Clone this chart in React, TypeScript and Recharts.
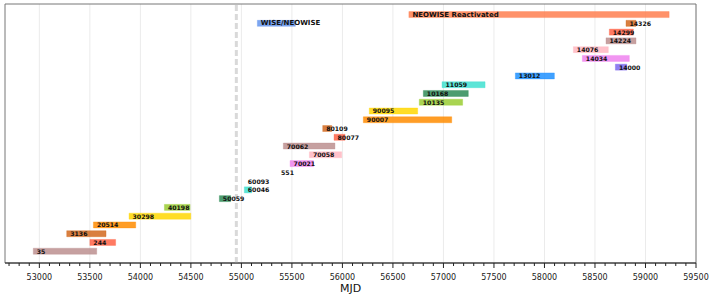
import { ComposedChart, Bar, Cell, XAxis, YAxis, ReferenceLine, ReferenceArea, LabelList, CartesianGrid } from 'recharts';

// observing programmes, one row each (WISE/NEOWISE shares the row of 14326)
const programs = ['35', '244', '3136', '20514', '30298', '40198', '50059', '60046', '60093', '551',
  '70021', '70058', '70062', '80077', '80109', '90007', '90095', '10135', '10168', '11059',
  '13012', '14000', '14034', '14076', '14224', '14299', '14326', 'NEOWISE Reactivated', 'WISE/NEOWISE'];
const rows = [0, 1, 2, 3, 4, 5, 6, 7, 8, 9, 10, 11, 12, 13, 14, 15, 16, 17, 18, 19, 20, 21, 22, 23, 24, 25, 26, 27, 26];
const startMJD = [52940, 53500, 53271, 53535, 53888, 54238, 54782, 55029, 55029, 55358,
  55482, 55673, 55415, 55917, 55805, 56207, 56266, 56761, 56801, 56986,
  57712, 58702, 58375, 58286, 58609, 58642, 58807, 56658, 55158];
const endMJD = [53568, 53755, 53660, 53954, 54499, 54492, 54894, 55102, 55030, 55359,
  55713, 55993, 55926, 56026, 55894, 57082, 56745, 57190, 57246, 57412,
  58098, 58815, 58840, 58632, 58906, 58880, 58906, 59234, 55534];
const colors = ['#bc8f8f', '#ff6347', '#d2691e', '#ff8c00', '#ffd700', '#9acd32', '#2e8b57', '#40e0d0', 'none', 'none',
  '#ee82ee', '#ffb6c1', '#bc8f8f', '#ff6347', '#d2691e', '#ff8c00', '#ffd700', '#9acd32', '#2e8b57', '#40e0d0',
  '#1e90ff', '#7b68ee', '#ee82ee', '#ffb6c1', '#bc8f8f', '#ff6347', '#d2691e', '#ff7f50', '#6495ed'];

const majorTicks = [53000, 53500, 54000, 54500, 55000, 55500, 56000, 56500, 57000, 57500, 58000, 58500, 59000, 59500];
const minorTicks: number[] = [];
for (let v = 52700; v <= 59500; v += 100) minorTicks.push(v);

const xDomain = [52660, 59500];
const yDomain = [-1.3, 28.25];
const gapMJD = 54950; // WISE gap marker

const data = programs.map((name, i) => ({
  name,
  row: rows[i],
  span: [startMJD[i], endMJD[i]],
}));

const AxisTick = ({ x, y, payload }: any) => {
  const major = majorTicks.includes(payload.value);
  return (
    <g>
      <line x1={x} x2={x} y1={y} y2={y + (major ? 5 : 3)} stroke="#222" strokeWidth={1} />
      {major && (
        <text x={x} y={y + 16.5} textAnchor="middle" fontSize={8} fill="#222" fontFamily="DejaVu Sans">
          {payload.value}
        </text>
      )}
    </g>
  );
};

const BarLabel = ({ x, y, height, value }: any) => (
  <text x={x + 3.5} y={y + height / 2} dominantBaseline="central"
    fontSize={/^\d+$/.test(String(value)) ? 6.2 : 7} fontWeight="bold"
    fill="#111" fontFamily="DejaVu Sans">
    {value}
  </text>
);

export default function App() {
  return (
    <div style={{ position: 'absolute', left: 0, top: 0, background: '#fff' }}>
      <ComposedChart width={711} height={296} data={data} layout="vertical"
        margin={{ top: 4, right: 15, left: 5, bottom: 0 }}>
        <CartesianGrid horizontal={false} verticalValues={majorTicks} stroke="#ebebeb" />
        <ReferenceArea x1={xDomain[0]} x2={xDomain[1]} y1={yDomain[0]} y2={yDomain[1]}
          fill="none" stroke="#777" strokeWidth={1} />
        <ReferenceLine x={gapMJD} stroke="#d9d9d9" strokeWidth={3} strokeDasharray="6 3" />
        <XAxis type="number" dataKey="span" domain={xDomain} allowDataOverflow ticks={minorTicks}
          interval={0} tickSize={0} tickMargin={0} tickLine={false} tick={<AxisTick />}
          axisLine={{ stroke: '#222' }} height={33}
          label={{ value: 'MJD', position: 'insideBottom', offset: 4, fontSize: 11, fill: '#111', fontFamily: 'DejaVu Sans' }} />
        <YAxis type="number" dataKey="row" domain={yDomain} allowDataOverflow width={0} reversed
          tick={false} tickLine={false} axisLine={{ stroke: '#222' }} />
        <Bar dataKey="span" barSize={6} isAnimationActive={false}>
          {data.map((d, i) => (
            <Cell key={d.name} fill={colors[i]} fillOpacity={0.85} stroke={colors[i]} strokeOpacity={0.35} strokeWidth={1} />
          ))}
          <LabelList dataKey="name" content={<BarLabel />} />
        </Bar>
      </ComposedChart>
    </div>
  );
}
